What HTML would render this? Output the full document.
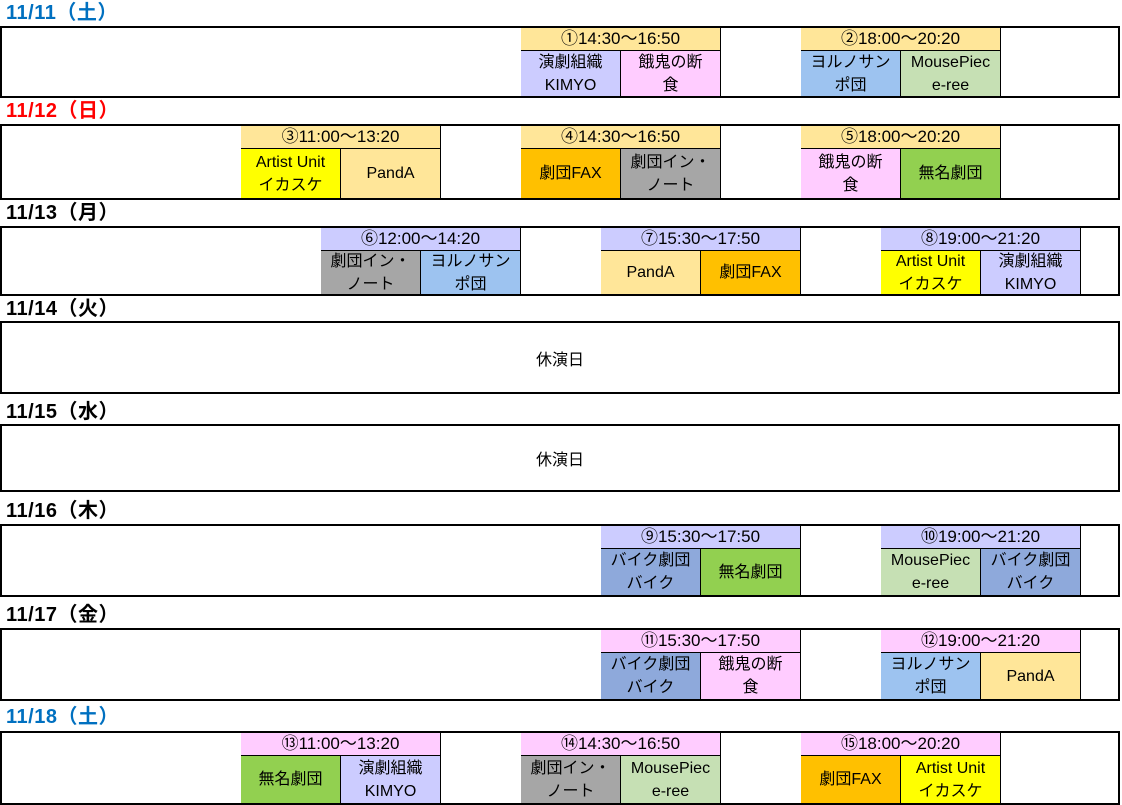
<!DOCTYPE html>
<html><head><meta charset="utf-8"><style>
body{margin:0;width:1122px;height:805px;background:#fff;position:relative;overflow:hidden;font-family:"Liberation Sans","Noto Sans CJK JP",sans-serif;}
.lbl{position:absolute;left:6px;font-size:20px;font-weight:bold;color:#000;line-height:22px;letter-spacing:0.5px}
.box{position:absolute;left:0;width:1116px;border:2px solid #000;}
.blk{position:absolute;top:0;width:200px;height:100%;}
.hd{position:absolute;left:0;top:0;width:199px;height:22px;border-right:1px solid #000;border-bottom:1px solid #000;text-align:center;font-size:17px;line-height:22px;box-sizing:content-box}
.c{position:absolute;top:23px;bottom:0;width:99px;border-right:1px solid #000;display:flex;align-items:center;justify-content:center;text-align:center;font-size:16px;line-height:23px}
.c.l{left:0}.c.r{left:100px}
.ctr{position:absolute;left:0;right:0;top:0;bottom:0;display:flex;align-items:center;justify-content:center;font-size:16px}
</style></head><body>

<div class="lbl" style="top:2px;color:#0070c0">11/11（土）</div>
<div class="box" style="top:26px;height:68px">
 <div class="blk" style="left:519px"><div class="hd" style="background:#ffe699">①14:30～16:50</div><div class="c l" style="background:#ccccff">演劇組織<br>KIMYO</div><div class="c r" style="background:#ffccff">餓鬼の断<br>食</div></div>
 <div class="blk" style="left:799px"><div class="hd" style="background:#ffe699">②18:00～20:20</div><div class="c l" style="background:#9dc3f0">ヨルノサン<br>ポ団</div><div class="c r" style="background:#c6e0b4">MousePiec<br>e-ree</div></div>
</div>

<div class="lbl" style="top:100px;color:#ff0000">11/12（日）</div>
<div class="box" style="top:124px;height:72px">
 <div class="blk" style="left:239px"><div class="hd" style="background:#ffe699">③11:00～13:20</div><div class="c l" style="background:#ffff00">Artist Unit<br>イカスケ</div><div class="c r" style="background:#ffe699">PandA</div></div>
 <div class="blk" style="left:519px"><div class="hd" style="background:#ffe699">④14:30～16:50</div><div class="c l" style="background:#ffc000">劇団FAX</div><div class="c r" style="background:#a6a6a6">劇団イン・<br>ノート</div></div>
 <div class="blk" style="left:799px"><div class="hd" style="background:#ffe699">⑤18:00～20:20</div><div class="c l" style="background:#ffccff">餓鬼の断<br>食</div><div class="c r" style="background:#92d050">無名劇団</div></div>
</div>

<div class="lbl" style="top:202px">11/13（月）</div>
<div class="box" style="top:226px;height:66px">
 <div class="blk" style="left:319px"><div class="hd" style="background:#ccccff">⑥12:00～14:20</div><div class="c l" style="background:#a6a6a6">劇団イン・<br>ノート</div><div class="c r" style="background:#9dc3f0">ヨルノサン<br>ポ団</div></div>
 <div class="blk" style="left:599px"><div class="hd" style="background:#ccccff">⑦15:30～17:50</div><div class="c l" style="background:#ffe699">PandA</div><div class="c r" style="background:#ffc000">劇団FAX</div></div>
 <div class="blk" style="left:879px"><div class="hd" style="background:#ccccff">⑧19:00～21:20</div><div class="c l" style="background:#ffff00">Artist Unit<br>イカスケ</div><div class="c r" style="background:#ccccff">演劇組織<br>KIMYO</div></div>
</div>

<div class="lbl" style="top:298px">11/14（火）</div>
<div class="box" style="top:321px;height:69px"><div class="ctr">休演日</div></div>

<div class="lbl" style="top:401px">11/15（水）</div>
<div class="box" style="top:424px;height:64px"><div class="ctr">休演日</div></div>

<div class="lbl" style="top:500px">11/16（木）</div>
<div class="box" style="top:524px;height:69px">
 <div class="blk" style="left:599px"><div class="hd" style="background:#ccccff">⑨15:30～17:50</div><div class="c l" style="background:#8ea9db">バイク劇団<br>バイク</div><div class="c r" style="background:#92d050">無名劇団</div></div>
 <div class="blk" style="left:879px"><div class="hd" style="background:#ccccff">⑩19:00～21:20</div><div class="c l" style="background:#c6e0b4">MousePiec<br>e-ree</div><div class="c r" style="background:#8ea9db">バイク劇団<br>バイク</div></div>
</div>

<div class="lbl" style="top:604px">11/17（金）</div>
<div class="box" style="top:628px;height:69px">
 <div class="blk" style="left:599px"><div class="hd" style="background:#ffccff">⑪15:30～17:50</div><div class="c l" style="background:#8ea9db">バイク劇団<br>バイク</div><div class="c r" style="background:#ffccff">餓鬼の断<br>食</div></div>
 <div class="blk" style="left:879px"><div class="hd" style="background:#ffccff">⑫19:00～21:20</div><div class="c l" style="background:#9dc3f0">ヨルノサン<br>ポ団</div><div class="c r" style="background:#ffe699">PandA</div></div>
</div>

<div class="lbl" style="top:706px;color:#0070c0">11/18（土）</div>
<div class="box" style="top:731px;height:70px">
 <div class="blk" style="left:239px"><div class="hd" style="background:#ffccff">⑬11:00～13:20</div><div class="c l" style="background:#92d050">無名劇団</div><div class="c r" style="background:#ccccff">演劇組織<br>KIMYO</div></div>
 <div class="blk" style="left:519px"><div class="hd" style="background:#ffccff">⑭14:30～16:50</div><div class="c l" style="background:#a6a6a6">劇団イン・<br>ノート</div><div class="c r" style="background:#c6e0b4">MousePiec<br>e-ree</div></div>
 <div class="blk" style="left:799px"><div class="hd" style="background:#ffccff">⑮18:00～20:20</div><div class="c l" style="background:#ffc000">劇団FAX</div><div class="c r" style="background:#ffff00">Artist Unit<br>イカスケ</div></div>
</div>
</body></html>
